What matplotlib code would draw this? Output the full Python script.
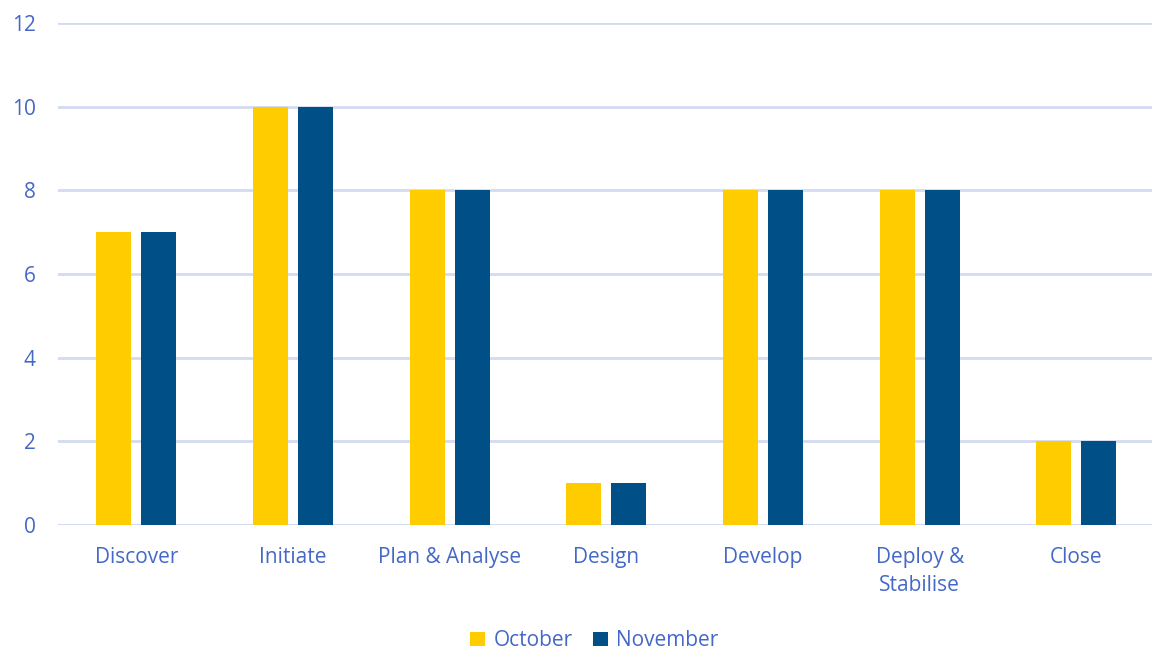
import matplotlib.pyplot as plt
import numpy as np

categories = ['Discover', 'Initiate', 'Plan & Analyse', 'Design', 'Develop', 'Deploy &\nStabilise', 'Close']
october = [7, 10, 8, 1, 8, 8, 2]
november = [7, 10, 8, 1, 8, 8, 2]

text_col = '#4468C8'
grid_col = '#D3DBF0'

plt.rcParams['font.family'] = ['Open Sans', 'DejaVu Sans']

fig = plt.figure(figsize=(11.52, 6.53), dpi=100)
ax = fig.add_axes([0.0503, 0.196, 0.952, 0.7688])

x = np.arange(len(categories))
w = 0.223
ax.bar(x - 0.1435, october, width=w, color='#FFCC00', label='October', zorder=3)
ax.bar(x + 0.1435, november, width=w, color='#004F86', label='November', zorder=3)

ax.set_xlim(-0.5, 6.5)
ax.set_ylim(0, 12)
ax.set_yticks(range(0, 13, 2))
ax.grid(axis='y', color=grid_col, linewidth=2, zorder=0)
ax.set_axisbelow(True)
for s in ax.spines.values():
    s.set_visible(False)
ax.axhline(0, color=grid_col, linewidth=2, zorder=2)

ax.set_xticks(x)
ax.set_xticklabels(categories, linespacing=1.45)
ax.tick_params(axis='both', length=0, labelcolor=text_col, labelsize=15)
ax.tick_params(axis='x', pad=16)
ax.tick_params(axis='y', pad=16)

fig.legend(loc='center', bbox_to_anchor=(0.516, 0.019), ncol=2, frameon=False,
           fontsize=15, labelcolor=text_col, handlelength=0.7, handleheight=0.7,
           handletextpad=0.4, columnspacing=1.0)

fig.savefig('out.png', dpi=100)
